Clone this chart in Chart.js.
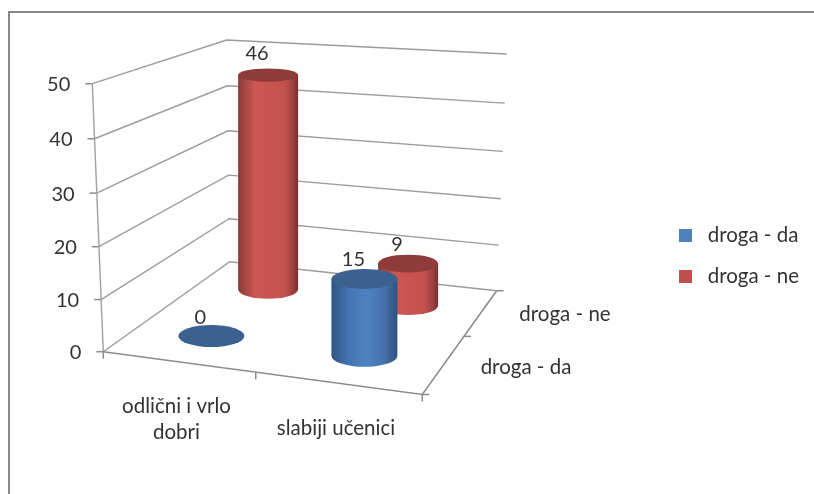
<!DOCTYPE html>
<html><head><meta charset="utf-8">
<style>html,body{margin:0;padding:0;background:#fff}canvas{display:block}</style>
<script src="https://cdn.jsdelivr.net/npm/chart.js@4"></script>
</head><body><canvas id="c" width="814" height="494"></canvas>
<script>
const categories = [["odlični i vrlo","dobri"],"slabiji učenici"];
const seriesNames = ["droga - da","droga - ne"];
const drogaDa = [0,15];
const drogaNe = [46,9];
const colors = ["#4F81BD","#C0504D"];
const TEXT = "#333";

// 3D projection of the floor and walls
const FL={x:103.3,y:351.7,dx:-11,h:268,bow:2.3}, FR={x:422.3,y:394.5},
      BL={x:229.7,y:261.7,dx:-3,h:221.7,bow:2.2}, BR={x:496.7,y:290.7,dx:10,h:236.7,bow:2.8};
const lerp=(a,b,t)=>a+(b-a)*t;
const floor=(u,v)=>({x:lerp(lerp(FL.x,FR.x,u),lerp(BL.x,BR.x,u),v),y:lerp(lerp(FL.y,FR.y,u),lerp(BL.y,BR.y,u),v)});
const wall=(c,f)=>({x:c.x+c.dx*f,y:c.y-c.h*f+c.bow*4*f*(1-f)});
const frac=(s,val)=>(s.bottom-s.getPixelForValue(val))/(s.bottom-s.top);
const cylH=(u,v)=>lerp(lerp(268,267,u),lerp(221,222,u),v);
const shades=[
 {top:"#3B6190",stops:[[0,"#2F5480"],[.25,"#4374AF"],[.55,"#4F82C2"],[.8,"#4672AB"],[1,"#2E527E"]]},
 {top:"#8E3B39",stops:[[0,"#8A3A38"],[.28,"#CC5755"],[.78,"#C4514E"],[.92,"#99403D"],[1,"#7A2E2C"]]}
];
function line(ctx,pts,color,w){ctx.beginPath();ctx.strokeStyle=color;ctx.lineWidth=w;pts.forEach((p,i)=>i?ctx.lineTo(p.x,p.y):ctx.moveTo(p.x,p.y));ctx.stroke();}
function cylinderGeom(chart,el,di){
  const a=chart.chartArea,u=(el.x-a.left)/(a.right-a.left),v=.25+.5*di;
  const f=(a.bottom-el.y)/(a.bottom-a.top);
  const b=floor(u,v);
  const rx=34.5-6*v, ry=11.75-3*v;
  return {cx:b.x,by:b.y-3,ty:b.y-3-cylH(u,v)*f,rx,ry,try:ry*(1-.325*f),f};
}
function legendSwatch(color){
  const c=document.createElement("canvas");c.width=13;c.height=13;
  const g=c.getContext("2d");g.fillStyle=color;g.fillRect(0,0,13,13);return c;
}
const scene={
  id:"scene",
  beforeDraw(chart){
    const ctx=chart.ctx;
    line(ctx,[{x:9,y:494},{x:9,y:12},{x:814,y:12}],"#888",2);
    const y=chart.scales.y,x=chart.scales.x;
    y.getLabelItems(chart.chartArea).forEach((it,i)=>{
      const f=frac(y,y.ticks[i].value),p=wall(FL,f);
      it.options.textAlign="right";
      it.options.translation=[p.x-22,p.y+1];
    });
    const labelPos=[[176.5,406],[336,428]];
    x.getLabelItems(chart.chartArea).forEach((it,i)=>{
      it.options.textAlign="center";
      it.options.textBaseline="middle";
      it.textOffset=0;
      it.options.translation=labelPos[i];
    });
  },
  beforeDatasetsDraw(chart){
    const ctx=chart.ctx,y=chart.scales.y;
    y.ticks.forEach(t=>{
      const f=frac(y,t.value),a=wall(FL,f),b=wall(BL,f),c=wall(BR,f);
      line(ctx,[a,b,c],"#9C9C9C",1.4);
      line(ctx,[{x:a.x-7,y:a.y},a],"#8C8C8C",1.5);
    });
    line(ctx,[wall(FL,0),wall(FL,1)],"#A0A0A0",1.4);
    line(ctx,[FL,FR,BR],"#8C8C8C",1.6);
    line(ctx,[{x:BR.x,y:BR.y},{x:BR.x+7,y:BR.y}],"#8C8C8C",1.5);
    [0,.478,1].forEach(u=>{const p=floor(u,0);line(ctx,[p,{x:p.x,y:p.y+7}],"#8C8C8C",1.5);});
    [0,.56].forEach(v=>{const p=floor(1,v);line(ctx,[p,{x:p.x+7,y:p.y}],"#8C8C8C",1.5);});
    ctx.font="20.5px Lato";ctx.fillStyle=TEXT;ctx.textAlign="center";ctx.textBaseline="middle";
    const dp=[[526,367],[565,314]];
    seriesNames.forEach((n,i)=>ctx.fillText(n,dp[i][0],dp[i][1]));
  },
  beforeDatasetDraw(chart,args){
    const ctx=chart.ctx,di=args.index,sh=shades[di];
    args.meta.data.forEach(el=>{
      const g=cylinderGeom(chart,el,di);
      if(g.by-g.ty>1){
        const gr=ctx.createLinearGradient(g.cx-g.rx,0,g.cx+g.rx,0);
        sh.stops.forEach(s=>gr.addColorStop(s[0],s[1]));
        ctx.beginPath();
        ctx.moveTo(g.cx-g.rx,g.ty);
        ctx.lineTo(g.cx-g.rx,g.by);
        ctx.ellipse(g.cx,g.by,g.rx,g.ry,0,Math.PI,0,true);
        ctx.lineTo(g.cx+g.rx,g.ty);
        ctx.closePath();
        ctx.fillStyle=gr;ctx.fill();
      }
      ctx.beginPath();ctx.ellipse(g.cx,g.ty,g.rx,g.try,0,0,Math.PI*2);
      ctx.fillStyle=sh.top;ctx.fill();
    });
    return false;
  },
  afterDatasetsDraw(chart){
    const ctx=chart.ctx;
    ctx.font="20px Lato";ctx.fillStyle=TEXT;ctx.textAlign="center";ctx.textBaseline="middle";
    chart.data.datasets.forEach((ds,di)=>{
      chart.getDatasetMeta(di).data.forEach((el,i)=>{
        const g=cylinderGeom(chart,el,di);
        ctx.fillText(String(ds.data[i]),g.cx-11,g.ty-18-3.5*g.f);
      });
    });
  }
};
new Chart(document.getElementById("c"),{
  type:"bar",
  data:{labels:categories,datasets:[
    {label:seriesNames[0],data:drogaDa,backgroundColor:colors[0]},
    {label:seriesNames[1],data:drogaNe,backgroundColor:colors[1]}
  ]},
  plugins:[scene],
  options:{
    responsive:false,animation:false,
    layout:{padding:{top:83.5,bottom:65.5,left:0,right:5}},
    datasets:{bar:{grouped:false}},
    scales:{
      x:{offset:true,grid:{display:false},border:{display:false},
         ticks:{mirror:true,font:{family:"Lato",size:20.5,lineHeight:1.27},color:TEXT,maxRotation:0,autoSkip:false},
         afterFit(s){s.height=76.8;}},
      y:{min:0,max:50,ticks:{stepSize:10,font:{family:"Lato",size:20},color:TEXT},grid:{display:false},border:{display:false},
         afterFit(s){s.width=103.3;}}
    },
    plugins:{
      title:{display:false},tooltip:{enabled:false},
      legend:{position:"right",align:"center",
        labels:{usePointStyle:true,pointStyleWidth:23,boxHeight:13,padding:20.5,font:{family:"Lato",size:20.5},color:TEXT,
          generateLabels(chart){return chart.data.datasets.map((d,i)=>({text:d.label,fontColor:TEXT,fillStyle:d.backgroundColor,strokeStyle:d.backgroundColor,lineWidth:0,pointStyle:legendSwatch(d.backgroundColor),datasetIndex:i}));}}}
    }
  }
});
</script></body></html>
